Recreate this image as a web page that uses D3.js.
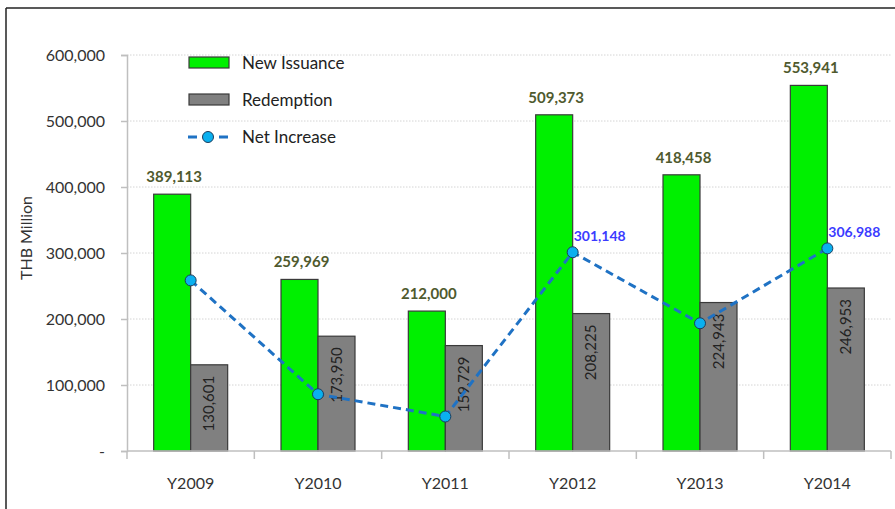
<!DOCTYPE html>
<html>
<head>
<meta charset="utf-8">
<script src="https://cdn.jsdelivr.net/npm/d3@7"></script>
<style>
  body { margin: 0; background: #fff; }
  svg { display: block; font-family: Lato, "Noto Sans", sans-serif; }
</style>
</head>
<body>
<svg id="chart" width="895" height="509"></svg>
<script>
// values (THB Million)
var years = ["Y2009", "Y2010", "Y2011", "Y2012", "Y2013", "Y2014"];
var newIssuance = [389113, 259969, 212000, 509373, 418458, 553941];
var redemption = [130601, 173950, 159729, 208225, 224943, 246953];
var netIncrease = [258512, 86019, 52271, 301148, 193515, 306988];
var netLabelShown = [false, false, false, true, false, true];
var yTicks = [0, 100000, 200000, 300000, 400000, 500000, 600000];
var seriesNames = ["New Issuance", "Redemption", "Net Increase"];

var svg = d3.select("#chart");
var plotLeft = 127, plotRight = 891, plotTop = 55, plotBottom = 451;

var x = d3.scaleBand().domain(years).range([plotLeft, plotRight]).paddingInner(0).paddingOuter(0);
var y = d3.scaleLinear().domain([0, 600000]).range([plotBottom, plotTop]);
var barW = 37;
var cx = function(i) { return x(years[i]) + x.bandwidth() / 2; };
var fmt = d3.format(",");

// frame
svg.append("line").attr("x1", 6).attr("x2", 895).attr("y1", 8).attr("y2", 8)
  .attr("stroke", "#222").attr("stroke-width", 1.5);
svg.append("line").attr("x1", 6).attr("x2", 6).attr("y1", 8).attr("y2", 509)
  .attr("stroke", "#222").attr("stroke-width", 1.5);

// gridlines
svg.append("g").selectAll("line")
  .data(yTicks.slice(1))
  .enter().append("line")
  .attr("x1", plotLeft).attr("x2", plotRight)
  .attr("y1", d => y(d)).attr("y2", d => y(d))
  .attr("stroke", "#d4d4d4").attr("stroke-dasharray", "1.5,1.5");

// y axis
var yAxis = d3.axisLeft(y).tickValues(yTicks).tickSize(6).tickPadding(16)
  .tickFormat(d => d === 0 ? "-" : fmt(d));
var gy = svg.append("g").attr("transform", "translate(" + plotLeft + ",0)").call(yAxis);
gy.select(".domain").attr("stroke", "#bfbfbf").attr("stroke-width", 1.5);
gy.selectAll(".tick line").attr("stroke", "#bfbfbf").attr("stroke-width", 1.5);
gy.selectAll("text").attr("font-size", 16).attr("fill", "#333").attr("font-family", "Lato");

svg.append("text")
  .attr("transform", "translate(32,238) rotate(-90)")
  .attr("text-anchor", "middle")
  .attr("font-size", 16)
  .attr("fill", "#333")
  .text("THB Million");

// bars
var bars = svg.append("g");
bars.selectAll(".new").data(newIssuance).enter().append("rect")
  .attr("class", "new")
  .attr("x", (d, i) => cx(i) - barW)
  .attr("y", d => y(d))
  .attr("width", barW)
  .attr("height", d => plotBottom - y(d))
  .attr("fill", "#00f000").attr("stroke", "#3a3a3a").attr("stroke-width", 1.2);
bars.selectAll(".red").data(redemption).enter().append("rect")
  .attr("class", "red")
  .attr("x", (d, i) => cx(i))
  .attr("y", d => y(d))
  .attr("width", barW)
  .attr("height", d => plotBottom - y(d))
  .attr("fill", "#808080").attr("stroke", "#3a3a3a").attr("stroke-width", 1.2);

// x axis
var xAxis = d3.axisBottom(x).tickSize(0).tickPadding(27);
var gx = svg.append("g").attr("transform", "translate(0," + plotBottom + ")").call(xAxis);
gx.select(".domain").remove();
gx.selectAll("text").attr("font-size", 16).attr("fill", "#333").attr("font-family", "Lato");
svg.append("line").attr("x1", plotLeft).attr("x2", plotRight).attr("y1", plotBottom).attr("y2", plotBottom)
  .attr("stroke", "#bfbfbf").attr("stroke-width", 1.5);
svg.append("g").selectAll("line")
  .data(years.map(d => x(d)).concat([plotRight]))
  .enter().append("line")
  .attr("x1", d => d).attr("x2", d => d)
  .attr("y1", plotBottom).attr("y2", plotBottom + 8)
  .attr("stroke", "#bfbfbf").attr("stroke-width", 1.5);

// labels on new issuance
svg.append("g").selectAll("text").data(newIssuance).enter().append("text")
  .attr("x", (d, i) => cx(i) - barW / 2 + 2)
  .attr("y", d => y(d) - 12)
  .attr("text-anchor", "middle")
  .attr("font-size", 15).attr("font-weight", "bold")
  .attr("fill", "#4f5a2e")
  .text(d => fmt(d));

// rotated labels inside redemption bars
svg.append("g").selectAll("text").data(redemption).enter().append("text")
  .attr("transform", (d, i) => "translate(" + (cx(i) + barW / 2 + 5) + "," + (y(d) + 11) + ") rotate(-90)")
  .attr("text-anchor", "end")
  .attr("font-size", 15)
  .attr("fill", "#222")
  .text(d => fmt(d));

// net increase line
var line = d3.line().x((d, i) => cx(i)).y(d => y(d));
svg.append("path").datum(netIncrease)
  .attr("d", line)
  .attr("fill", "none")
  .attr("stroke", "#1f72c4")
  .attr("stroke-width", 3)
  .attr("stroke-dasharray", "8,5");
svg.append("g").selectAll("circle").data(netIncrease).enter().append("circle")
  .attr("cx", (d, i) => cx(i))
  .attr("cy", d => y(d))
  .attr("r", 5.5)
  .attr("fill", "#0ab0ef")
  .attr("stroke", "#1d3c5c").attr("stroke-width", 1);
svg.append("g").selectAll("text")
  .data(netIncrease.map((d, i) => ({ v: d, i: i })).filter(d => netLabelShown[d.i]))
  .enter().append("text")
  .attr("x", d => cx(d.i) + 1)
  .attr("y", d => y(d.v) - 11)
  .attr("font-size", 14).attr("font-weight", "bold")
  .attr("fill", "#3b3bff")
  .text(d => fmt(d.v));

// legend
var lg = svg.append("g");
lg.append("rect").attr("x", 189).attr("y", 57).attr("width", 40).attr("height", 11)
  .attr("fill", "#00f000").attr("stroke", "#3a3a3a").attr("stroke-width", 1.2);
lg.append("rect").attr("x", 189).attr("y", 94).attr("width", 40).attr("height", 11)
  .attr("fill", "#808080").attr("stroke", "#3a3a3a").attr("stroke-width", 1.2);
lg.append("line").attr("x1", 188).attr("x2", 228).attr("y1", 137).attr("y2", 137)
  .attr("stroke", "#1f72c4").attr("stroke-width", 3).attr("stroke-dasharray", "9,22");
lg.append("circle").attr("cx", 208).attr("cy", 137).attr("r", 5.5)
  .attr("fill", "#0ab0ef").attr("stroke", "#1d3c5c").attr("stroke-width", 1);
lg.selectAll(".lt").data(seriesNames).enter().append("text")
  .attr("x", 242)
  .attr("y", (d, i) => 63 + i * 37)
  .attr("dy", "0.35em")
  .attr("font-size", 17)
  .attr("fill", "#222")
  .text(d => d);
</script>
</body>
</html>
